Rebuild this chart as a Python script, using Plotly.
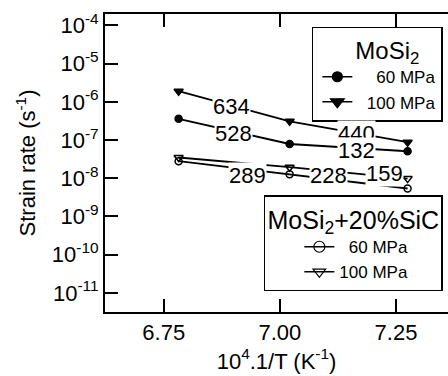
import plotly.graph_objects as go

# ---- data ----
inv_T = [6.782, 7.021, 7.275]  # 10^4/T (K^-1)
mosi2_60 = [3.6e-7, 7.9e-8, 5.1e-8]
mosi2_100 = [1.9e-6, 3.1e-7, 8.8e-8]
comp_60 = [2.8e-8, 1.27e-8, 5.4e-9]
comp_100 = [3.5e-8, 1.95e-8, 9.8e-9]

x_ticks = [6.75, 7.00, 7.25]
x_ticklabels = ["6.75", "7.00", "7.25"]
y_exps = [-4, -5, -6, -7, -8, -9, -10, -11]

energy_labels = ["634", "528", "440", "132", "289", "228", "159"]
label_pos_x = [6.895, 6.900, 7.166, 7.166, 6.930, 7.104, 7.226]
label_pos_logy = [-6.13, -6.83, -6.83, -7.26, -7.93, -7.93, -7.87]

FONT = "Liberation Sans, Arial, sans-serif"
NB = "\u00a0"

series = [
    (mosi2_60, "60 MPa", "circle", 7, 10, "legend", NB * 4),
    (mosi2_100, "100 MPa", "triangle-down", 8, 12, "legend", NB * 2),
    (comp_60, "60 MPa", "circle-open", 7, 11, "legend2", NB * 2),
    (comp_100, "100 MPa", "triangle-down-open", 8, 11, "legend2", ""),
]

fig = go.Figure()
for yvals, name, sym, msize, lsize, leg, pad in series:
    fig.add_trace(go.Scatter(x=inv_T, y=yvals, mode="lines+markers", name=name,
                             line=dict(color="black", width=1.8),
                             marker=dict(symbol=sym, size=msize, color="black", line=dict(width=1.5, color="black")),
                             showlegend=False))
    # legend entry (same style, legend-sized symbol)
    fig.add_trace(go.Scatter(x=[None], y=[None], mode="lines+markers", name=pad + name,
                             line=dict(color="black", width=1.5),
                             marker=dict(symbol=sym, size=lsize, color="black", line=dict(width=1.2, color="black")),
                             legend=leg, showlegend=True))

for txt, lx, ly in zip(energy_labels, label_pos_x, label_pos_logy):
    fig.add_annotation(x=lx, y=ly, text=txt, showarrow=False, xref="x", yref="y",
                       xanchor="center", yanchor="middle",
                       font=dict(size=22, color="black", family=FONT),
                       bgcolor="white", borderpad=0)

legend_common = dict(bgcolor="white", bordercolor="black", borderwidth=1.5,
                     itemsizing="trace", font=dict(size=17, family=FONT, color="black"),
                     xanchor="right", yanchor="top", tracegroupgap=0)

fig.update_layout(
    width=448, height=376,
    margin=dict(l=105, r=0, t=14, b=64),
    paper_bgcolor="white", plot_bgcolor="white",
    font=dict(family=FONT, size=22, color="black"),
    showlegend=True,
    legend=dict(x=0.985, y=0.958, indentation=4,
                title=dict(text="MoSi<sub>2</sub>" + NB * 3, side="top right", font=dict(size=24, family=FONT)),
                **legend_common),
    legend2=dict(x=0.985, y=0.392, indentation=34,
                 title=dict(text="MoSi<sub>2</sub>+20%SiC", side="top center", font=dict(size=25, family=FONT)),
                 **legend_common),
    xaxis=dict(range=[6.6235, 7.362], tickvals=x_ticks, ticktext=x_ticklabels,
               ticks="inside", ticklen=13, tickwidth=1.5, tickcolor="black",
               showline=True, linecolor="black", linewidth=2, mirror="ticks",
               showgrid=False, zeroline=False,
               tickfont=dict(size=22),
               title=dict(text="10<sup>4</sup>.1/T (K<sup>-1</sup>)", font=dict(size=22), standoff=6)),
    yaxis=dict(type="log", range=[-11.5, -3.7],
               tickvals=[10.0 ** e for e in y_exps],
               ticktext=["10<sup>%d</sup>" % e for e in y_exps],
               ticks="inside", ticklen=13, tickwidth=1.5, tickcolor="black",
               showline=True, linecolor="black", linewidth=2,
               showgrid=False, zeroline=False,
               tickfont=dict(size=22),
               title=dict(text="Strain rate (s<sup>-1</sup>)", font=dict(size=22), standoff=10)),
)

fig.write_html("out.html", config={"displayModeBar": False},
               post_script="document.body.style.margin='0';document.body.style.overflow='hidden';")
